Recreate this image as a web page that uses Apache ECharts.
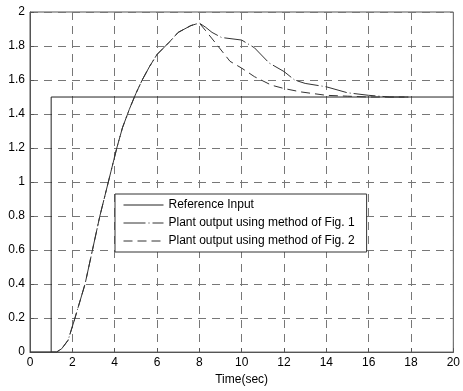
<!DOCTYPE html>
<html>
<head>
<meta charset="utf-8">
<script src="https://cdn.jsdelivr.net/npm/echarts@6/dist/echarts.min.js"></script>
<style>
  html, body { margin: 0; padding: 0; background: #fff; }
  #chart { width: 463px; height: 391px; }
</style>
</head>
<body>
<div id="chart"></div>
<script>
// reference step
const refT = [0, 1, 1, 20];
const refV = [0, 0, 1.5, 1.5];

// shared rise of both plant outputs
const riseT = [1, 1.25, 1.5, 1.8, 2.1, 2.6, 2.95, 3.3, 3.7, 4.1, 4.37, 4.7, 5.0, 5.3, 5.65, 6.0, 6.56, 7.0, 7.6, 8];
const riseV = [0, 0, 0.02, 0.07, 0.19, 0.4, 0.6, 0.8, 1.0, 1.2, 1.32, 1.43, 1.52, 1.6, 1.68, 1.75, 1.82, 1.88, 1.92, 1.935];

// method of Fig. 1
const fig1T = [8.3, 8.6, 9.05, 10, 10.6, 11.3, 12, 12.5, 13, 14, 15, 16, 17, 18];
const fig1V = [1.91, 1.88, 1.85, 1.835, 1.79, 1.7, 1.65, 1.6, 1.58, 1.56, 1.525, 1.51, 1.5, 1.5];

// method of Fig. 2
const fig2T = [8.3, 8.75, 9.45, 10, 10.6, 11.4, 12, 12.8, 14, 15, 16, 17, 18];
const fig2V = [1.89, 1.82, 1.71, 1.67, 1.62, 1.57, 1.55, 1.53, 1.51, 1.505, 1.5, 1.5, 1.5];

const yTicks = [0, 0.2, 0.4, 0.6, 0.8, 1, 1.2, 1.4, 1.6, 1.8, 2];

const zip = (t, v) => t.map((x, i) => [x, v[i]]);
const fig1 = zip(riseT, riseV).concat(zip(fig1T, fig1V));
const fig2 = zip(riseT, riseV).concat(zip(fig2T, fig2V));

const chart = echarts.init(document.getElementById('chart'));
const font = { fontFamily: 'Liberation Sans, Arial, sans-serif', fontSize: 12, color: '#000' };
const grid = { type: [8, 6], color: '#777', width: 1 };

chart.setOption({
  animation: false,
  backgroundColor: '#fff',
  grid: { left: 30, right: 6, top: 12, bottom: 38, show: true, borderColor: '#555', borderWidth: 1 },
  legend: {
    orient: 'vertical',
    left: 115,
    top: 194,
    padding: [5, 12, 5, 8],
    itemWidth: 40,
    itemHeight: 14,
    itemGap: 6,
    borderColor: '#333',
    borderWidth: 1,
    backgroundColor: '#fff',
    textStyle: font,
    lineStyle: { width: 1 },
    itemStyle: { color: 'transparent', borderColor: 'transparent', borderWidth: 0 },
    data: ['Reference Input', 'Plant output using method of Fig. 1', 'Plant output using method of Fig. 2']
  },
  xAxis: {
    type: 'value',
    min: 0, max: 20, interval: 2,
    name: 'Time(sec)',
    nameLocation: 'middle',
    nameGap: 21,
    nameTextStyle: font,
    axisLine: { show: true, lineStyle: { color: '#555' } },
    axisTick: { show: true, inside: true, length: 4, lineStyle: { color: '#555' } },
    axisLabel: Object.assign({ margin: 5 }, font),
    splitLine: { show: true, lineStyle: grid }
  },
  yAxis: {
    type: 'value',
    min: 0, max: 2, interval: 0.2,
    axisLine: { show: true, lineStyle: { color: '#555' } },
    axisTick: { show: true, inside: true, length: 4, lineStyle: { color: '#555' } },
    axisLabel: Object.assign({ margin: 5, formatter: v => yTicks.includes(+v.toFixed(1)) ? String(+v.toFixed(1)) : '' }, font),
    splitLine: { show: true, lineStyle: grid }
  },
  series: [
    {
      name: 'Reference Input',
      type: 'line',
      symbol: 'none',
      data: zip(refT, refV),
      lineStyle: { color: '#222', width: 1 },
      itemStyle: { color: '#222' }
    },
    {
      name: 'Plant output using method of Fig. 1',
      type: 'line',
      symbol: 'none',
      data: fig1,
      lineStyle: { color: '#333', width: 1, type: [22, 3, 1, 3] },
      itemStyle: { color: '#333' }
    },
    {
      name: 'Plant output using method of Fig. 2',
      type: 'line',
      symbol: 'none',
      data: fig2,
      lineStyle: { color: '#333', width: 1, type: [9, 5] },
      itemStyle: { color: '#333' }
    }
  ]
});
</script>
</body>
</html>
